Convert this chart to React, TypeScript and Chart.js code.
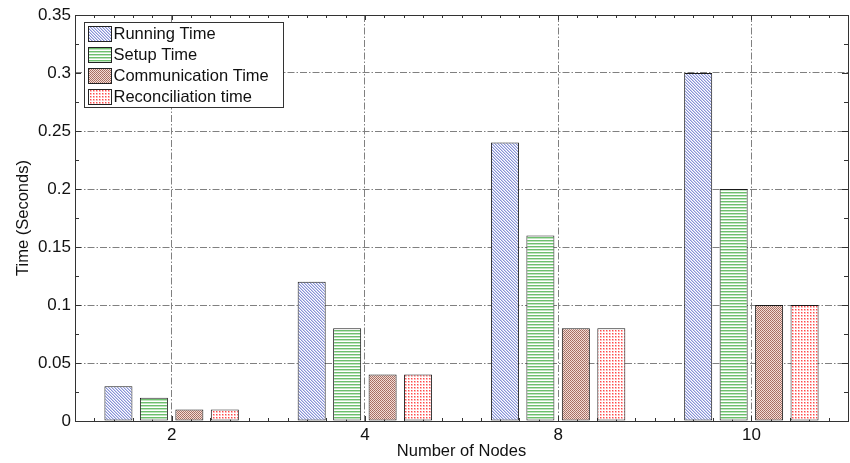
import React, { useEffect, useRef } from 'react';
import { Chart, registerables } from 'chart.js';

Chart.register(...registerables);

const categories = ['2', '4', '8', '10'];
const seriesLabels = ['Running Time', 'Setup Time', 'Communication Time', 'Reconciliation time'];
const runningTime = [0.03, 0.12, 0.24, 0.3];
const setupTime = [0.02, 0.08, 0.16, 0.2];
const communicationTime = [0.01, 0.04, 0.08, 0.1];
const reconciliationTime = [0.01, 0.04, 0.08, 0.1];
const yMin = 0;
const yMax = 0.35;
const yStep = 0.05;
const xTitle = 'Number of Nodes';
const yTitle = 'Time (Seconds)';

const FONT = "'Liberation Sans', Arial, sans-serif";

function makePattern(kind: string): CanvasPattern | string {
  const c = document.createElement('canvas');
  const ctx = c.getContext('2d');
  if (!ctx) return '#ccc';
  const px = (x: number, y: number, col: string) => {
    ctx.fillStyle = col;
    ctx.fillRect(x, y, 1, 1);
  };
  c.width = 3; c.height = 3;
  if (kind === 'diag') {
    ctx.fillStyle = '#ffffff';
    ctx.fillRect(0, 0, 3, 3);
    for (let i = 0; i < 3; i++) {
      px(i, i, '#8792d6');
      px((i + 1) % 3, i, '#c9cdee');
    }
  } else if (kind === 'horiz') {
    ctx.fillStyle = '#ffffff';
    ctx.fillRect(0, 0, 3, 3);
    for (let i = 0; i < 3; i++) {
      px(i, 0, '#6dbf6d');
      px(i, 1, '#bfe4bf');
    }
  } else if (kind === 'cross') {
    c.width = 2; c.height = 2;
    ctx.fillStyle = '#f2dcd6';
    ctx.fillRect(0, 0, 2, 2);
    px(0, 0, '#a46c60');
    px(1, 1, '#ad7669');
  } else {
    ctx.fillStyle = '#ffffff';
    ctx.fillRect(0, 0, 3, 3);
    px(0, 0, '#ff4a4a');
    px(1, 0, '#ffb0b0');
    px(0, 1, '#ffb0b0');
    px(1, 1, '#ffc8c8');
  }
  return ctx.createPattern(c, 'repeat') || '#ccc';
}

const fmt = (v: number) => String(Number(v.toFixed(3)));

export default function App() {
  const canvasRef = useRef<HTMLCanvasElement | null>(null);

  useEffect(() => {
    document.body.style.margin = '0';
    const canvas = canvasRef.current;
    if (!canvas) return;
    const patterns = [makePattern('diag'), makePattern('horiz'), makePattern('cross'), makePattern('dots')];
    const seriesValues = [runningTime, setupTime, communicationTime, reconciliationTime];

    const axesPlugin = {
      id: 'matlabAxes',
      beforeDatasetsDraw(chart: any) {
        const { ctx, chartArea, scales } = chart;
        const xs = scales.x;
        const ys = scales.y;
        ctx.save();
        ctx.strokeStyle = '#333';
        ctx.lineWidth = 1;
        ctx.beginPath();
        const n = categories.length;
        for (let k = -5; k <= n * 10 - 5; k++) {
          const v = k / 10;
          const xp = Math.round(xs.getPixelForValue(v)) + 0.5;
          if (xp <= chartArea.left + 1 || xp >= chartArea.right - 1) continue;
          const major = k % 10 === 0;
          const len = major ? 5 : 3;
          ctx.moveTo(xp, chartArea.bottom);
          ctx.lineTo(xp, chartArea.bottom - len);
          ctx.moveTo(xp, chartArea.top);
          ctx.lineTo(xp, chartArea.top + len);
        }
        const steps = Math.round((yMax - yMin) / (yStep / 2));
        for (let k = 1; k < steps; k++) {
          const v = yMin + (k * yStep) / 2;
          const yp = Math.round(ys.getPixelForValue(v)) + 0.5;
          const len = k % 2 === 0 ? 6 : 4;
          ctx.moveTo(chartArea.left, yp);
          ctx.lineTo(chartArea.left + len, yp);
          ctx.moveTo(chartArea.right, yp);
          ctx.lineTo(chartArea.right - len, yp);
        }
        ctx.stroke();
        ctx.restore();
      },
      afterDatasetsDraw(chart: any) {
        const { ctx, chartArea } = chart;
        ctx.save();
        ctx.strokeStyle = '#333';
        ctx.lineWidth = 1;
        ctx.strokeRect(
          Math.round(chartArea.left) + 0.5,
          Math.round(chartArea.top) + 0.5,
          Math.round(chartArea.right - chartArea.left),
          Math.round(chartArea.bottom - chartArea.top)
        );
        const lx = Math.round(chartArea.left) + 9.5;
        const ly = Math.round(chartArea.top) + 7.5;
        ctx.font = `16.5px ${FONT}`;
        let maxW = 0;
        seriesLabels.forEach((l) => { maxW = Math.max(maxW, ctx.measureText(l).width); });
        const rowH = 21;
        const boxW = Math.round(4 + 23 + 2 + maxW + 15);
        const boxH = seriesLabels.length * rowH + 1;
        ctx.fillStyle = '#fff';
        ctx.fillRect(lx, ly, boxW, boxH);
        ctx.strokeStyle = '#333';
        ctx.strokeRect(lx, ly, boxW, boxH);
        seriesLabels.forEach((label, i) => {
          const sy = ly + 4 + i * rowH;
          ctx.fillStyle = patterns[i] as any;
          ctx.fillRect(lx + 4, sy, 23, 15);
          ctx.strokeStyle = '#222';
          ctx.strokeRect(lx + 4, sy, 23, 15);
          ctx.fillStyle = '#111';
          ctx.textBaseline = 'middle';
          ctx.textAlign = 'left';
          ctx.fillText(label, lx + 29, sy + 8);
        });
        ctx.restore();
      },
    };

    const chart = new Chart(canvas, {
      type: 'bar',
      data: {
        labels: categories,
        datasets: seriesLabels.map((label, i) => ({
          label,
          data: seriesValues[i],
          backgroundColor: patterns[i] as any,
          borderColor: '#1a1a1a',
          borderWidth: 1,
          borderSkipped: false,
          categoryPercentage: 0.734,
          barPercentage: 0.79,
        })),
      },
      options: {
        responsive: false,
        animation: false,
        layout: { padding: { top: 15, right: 2, left: 0, bottom: 0 } },
        plugins: {
          legend: { display: false },
          tooltip: { enabled: false },
        },
        scales: {
          x: {
            offset: true,
            grid: {
              offset: false,
              color: '#808080',
              lineWidth: 1,
              drawTicks: false,
            },
            border: { display: false, dash: [7, 2, 1.5, 2] },
            ticks: {
              padding: 4,
              color: '#111',
              font: { family: FONT, size: 17 },
              maxRotation: 0,
            },
            title: {
              display: true,
              text: xTitle,
              color: '#111',
              font: { family: FONT, size: 16.5 },
              padding: { top: 0, bottom: 2 },
            },
            afterFit: (scale: any) => { scale.height = 42; },
          },
          y: {
            min: yMin,
            max: yMax,
            grid: {
              color: (c: any) => (c.tick && (c.tick.value <= yMin + 1e-9 || c.tick.value >= yMax - 1e-9) ? 'rgba(0,0,0,0)' : '#808080'),
              lineWidth: 1,
              drawTicks: false,
            },
            border: { display: false, dash: [7, 2, 1.5, 2] },
            ticks: {
              stepSize: yStep,
              padding: 4,
              color: '#111',
              font: { family: FONT, size: 17 },
              callback: (v: any) => fmt(Number(v)),
            },
            title: {
              display: true,
              text: yTitle,
              color: '#111',
              font: { family: FONT, size: 16.5 },
              padding: { top: 14, bottom: 0 },
            },
            afterFit: (scale: any) => { scale.width = 75; },
          },
        },
      },
      plugins: [axesPlugin],
    });
    return () => chart.destroy();
  }, []);

  return (
    <div style={{ width: 850, height: 463, background: '#fff' }}>
      <canvas ref={canvasRef} width={850} height={463} style={{ display: 'block' }} />
    </div>
  );
}
